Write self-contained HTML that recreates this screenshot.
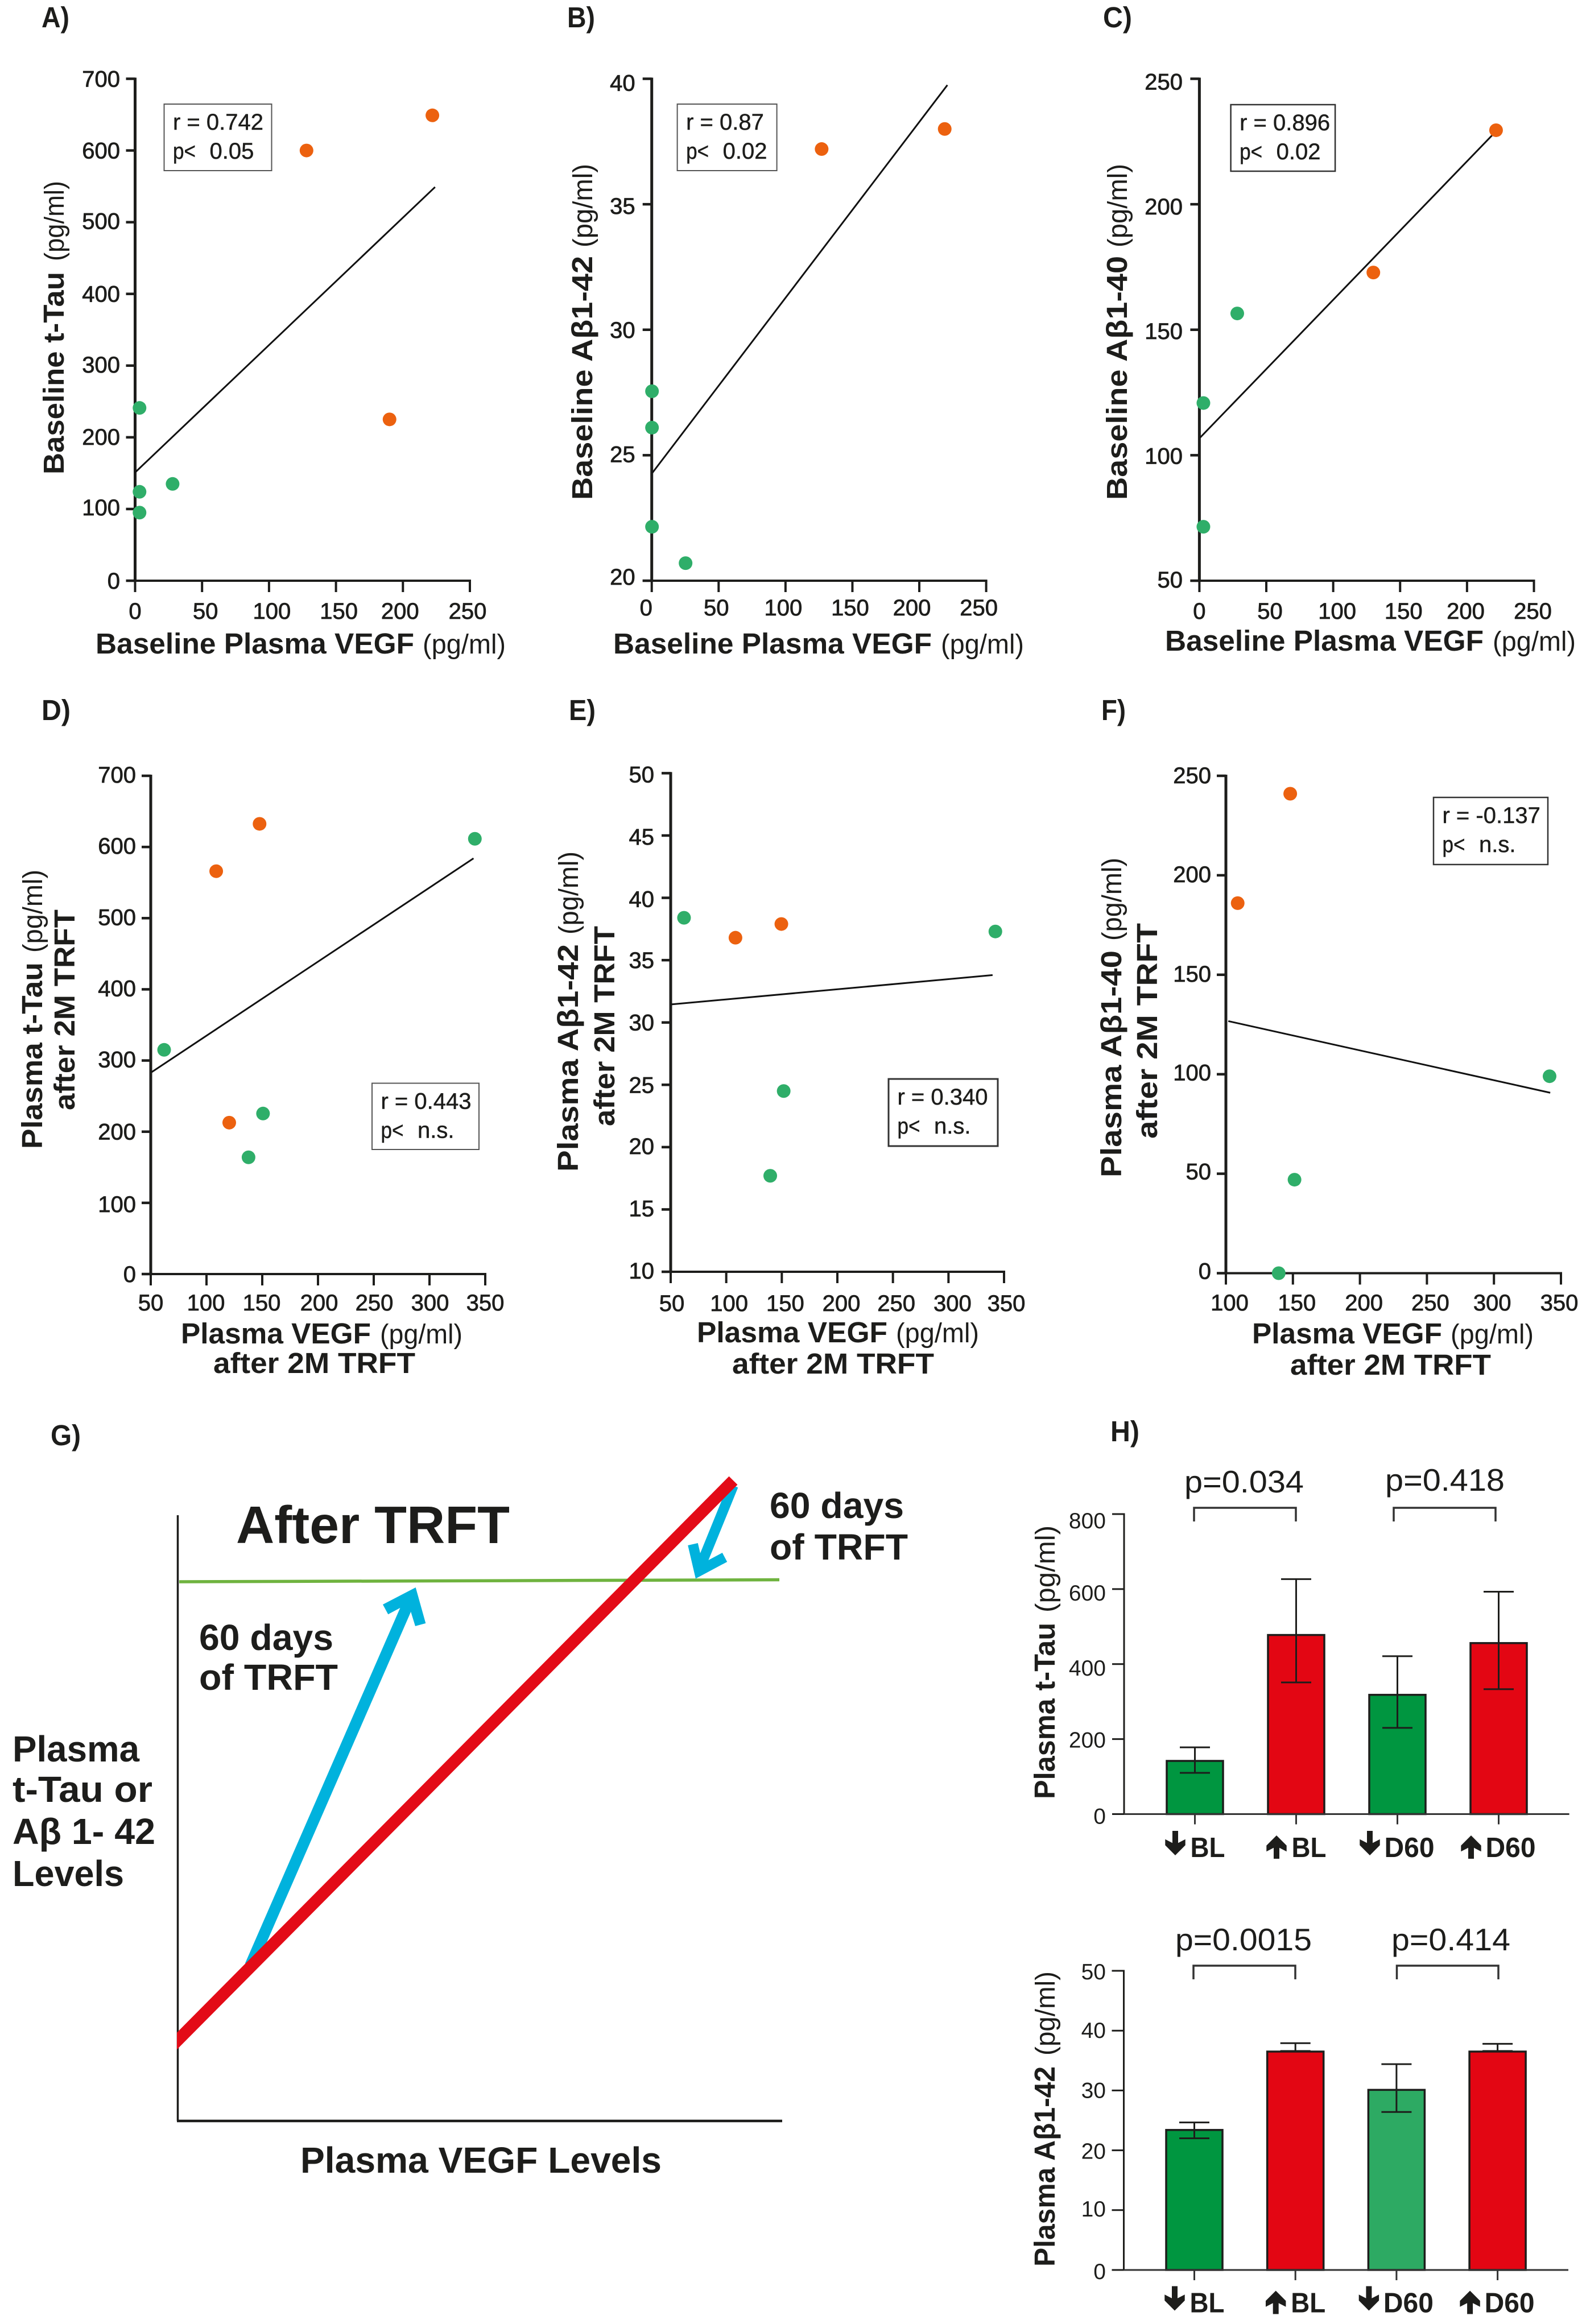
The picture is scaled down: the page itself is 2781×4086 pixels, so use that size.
<!DOCTYPE html>
<html lang="en">
<head>
<meta charset="utf-8">
<title>Plasma VEGF correlations and biomarker levels</title>
<style>
html,body{margin:0;padding:0;background:#fff;}
svg{display:block;}
text{font-family:"Liberation Sans",sans-serif;fill:#1d1d1b;}
.b{font-size:51px;font-weight:bold;}
.u{font-size:48px;}
.tick{font-size:40px;stroke:#1d1d1b;stroke-width:.8px;}
.box{font-size:40px;stroke:#1d1d1b;stroke-width:.5px;}
.letter{font-size:51px;font-weight:bold;}
.g{font-size:64px;font-weight:bold;}
.h{font-size:49px;font-weight:bold;}
.pv{font-size:55px;}
.tickh{font-size:39px;}
</style>
</head>
<body>
<svg id="fig" xmlns="http://www.w3.org/2000/svg" width="2781" height="4086" viewBox="0 0 2781 4086">
<defs>
<clipPath id="red-line-clip"><rect x="311" y="2500" width="1100" height="1300"/></clipPath>
</defs>
<rect width="2781" height="4086" fill="#fff"/>

<!-- panel letters -->
<text class="letter" x="73" y="48" textLength="49" lengthAdjust="spacingAndGlyphs">A)</text>
<text class="letter" x="997" y="48" textLength="49" lengthAdjust="spacingAndGlyphs">B)</text>
<text class="letter" x="1939" y="48" textLength="51" lengthAdjust="spacingAndGlyphs">C)</text>
<text class="letter" x="73" y="1266" textLength="51" lengthAdjust="spacingAndGlyphs">D)</text>
<text class="letter" x="1000" y="1266" textLength="47" lengthAdjust="spacingAndGlyphs">E)</text>
<text class="letter" x="1936" y="1266" textLength="43" lengthAdjust="spacingAndGlyphs">F)</text>
<text class="letter" x="89" y="2541" textLength="53" lengthAdjust="spacingAndGlyphs">G)</text>
<text class="letter" x="1952" y="2534" textLength="51" lengthAdjust="spacingAndGlyphs">H)</text>

<!-- x titles top row -->
<text class="b" x="168" y="1149" textLength="560" lengthAdjust="spacingAndGlyphs">Baseline Plasma VEGF</text>
<text class="u" x="743" y="1149" textLength="146" lengthAdjust="spacingAndGlyphs">(pg/ml)</text>
<text class="b" x="1078" y="1149" textLength="560" lengthAdjust="spacingAndGlyphs">Baseline Plasma VEGF</text>
<text class="u" x="1654" y="1149" textLength="146" lengthAdjust="spacingAndGlyphs">(pg/ml)</text>
<text class="b" x="2048" y="1144" textLength="560" lengthAdjust="spacingAndGlyphs">Baseline Plasma VEGF</text>
<text class="u" x="2624" y="1144" textLength="146" lengthAdjust="spacingAndGlyphs">(pg/ml)</text>

<!-- y titles top row -->
<text class="b" transform="translate(112,834) rotate(-90)" textLength="356" lengthAdjust="spacingAndGlyphs">Baseline t-Tau</text>
<text class="u" transform="translate(112,459) rotate(-90)" textLength="141" lengthAdjust="spacingAndGlyphs">(pg/ml)</text>
<text class="b" transform="translate(1041,879) rotate(-90)" textLength="429" lengthAdjust="spacingAndGlyphs">Baseline Aβ1-42</text>
<text class="u" transform="translate(1041,435) rotate(-90)" textLength="147" lengthAdjust="spacingAndGlyphs">(pg/ml)</text>
<text class="b" transform="translate(1981,879) rotate(-90)" textLength="429" lengthAdjust="spacingAndGlyphs">Baseline Aβ1-40</text>
<text class="u" transform="translate(1981,435) rotate(-90)" textLength="147" lengthAdjust="spacingAndGlyphs">(pg/ml)</text>

<!-- x titles middle row -->
<text class="b" x="318" y="2362" textLength="334" lengthAdjust="spacingAndGlyphs">Plasma VEGF</text>
<text class="u" x="668" y="2362" textLength="145" lengthAdjust="spacingAndGlyphs">(pg/ml)</text>
<text class="b" x="375" y="2414" textLength="355" lengthAdjust="spacingAndGlyphs">after 2M TRFT</text>
<text class="b" x="1225" y="2360" textLength="335" lengthAdjust="spacingAndGlyphs">Plasma VEGF</text>
<text class="u" x="1575" y="2360" textLength="146" lengthAdjust="spacingAndGlyphs">(pg/ml)</text>
<text class="b" x="1287" y="2415" textLength="355" lengthAdjust="spacingAndGlyphs">after 2M TRFT</text>
<text class="b" x="2201" y="2362" textLength="334" lengthAdjust="spacingAndGlyphs">Plasma VEGF</text>
<text class="u" x="2550" y="2362" textLength="146" lengthAdjust="spacingAndGlyphs">(pg/ml)</text>
<text class="b" x="2268" y="2417" textLength="353" lengthAdjust="spacingAndGlyphs">after 2M TRFT</text>

<!-- y titles middle row -->
<text class="b" transform="translate(74,2020) rotate(-90)" textLength="328" lengthAdjust="spacingAndGlyphs">Plasma t-Tau</text>
<text class="u" transform="translate(74,1675) rotate(-90)" textLength="146" lengthAdjust="spacingAndGlyphs">(pg/ml)</text>
<text class="b" transform="translate(131,1952) rotate(-90)" textLength="353" lengthAdjust="spacingAndGlyphs">after 2M TRFT</text>
<text class="b" transform="translate(1016,2060) rotate(-90)" textLength="400" lengthAdjust="spacingAndGlyphs">Plasma Aβ1-42</text>
<text class="u" transform="translate(1016,1643) rotate(-90)" textLength="146" lengthAdjust="spacingAndGlyphs">(pg/ml)</text>
<text class="b" transform="translate(1080,1980) rotate(-90)" textLength="352" lengthAdjust="spacingAndGlyphs">after 2M TRFT</text>
<text class="b" transform="translate(1971,2070) rotate(-90)" textLength="399" lengthAdjust="spacingAndGlyphs">Plasma Aβ1-40</text>
<text class="u" transform="translate(1971,1654) rotate(-90)" textLength="146" lengthAdjust="spacingAndGlyphs">(pg/ml)</text>
<text class="b" transform="translate(2034,2002) rotate(-90)" textLength="379" lengthAdjust="spacingAndGlyphs">after 2M TRFT</text>

<!-- stat boxes -->
<g transform="translate(288.5,183)">
<rect x="0" y="0" width="189" height="117" fill="#fff" stroke="#555" stroke-width="2"/>
<text class="box" x="15.5" y="45">r = 0.742</text>
<text class="box" x="15.5" y="96"><tspan textLength="40" lengthAdjust="spacingAndGlyphs">p&lt;</tspan><tspan x="80">0.05</tspan></text>
</g>
<g transform="translate(1190.6,183)">
<rect x="0" y="0" width="175" height="117" fill="#fff" stroke="#555" stroke-width="2"/>
<text class="box" x="15.5" y="45">r = 0.87</text>
<text class="box" x="15.5" y="96"><tspan textLength="40" lengthAdjust="spacingAndGlyphs">p&lt;</tspan><tspan x="80">0.02</tspan></text>
</g>
<g transform="translate(2163.6,184)">
<rect x="0" y="0" width="183.5" height="117" fill="#fff" stroke="#333" stroke-width="2.5"/>
<text class="box" x="15.5" y="45">r = 0.896</text>
<text class="box" x="15.5" y="96"><tspan textLength="40" lengthAdjust="spacingAndGlyphs">p&lt;</tspan><tspan x="80">0.02</tspan></text>
</g>
<g transform="translate(654,1904.5)">
<rect x="0" y="0" width="188" height="116.5" fill="#fff" stroke="#555" stroke-width="2"/>
<text class="box" x="15.5" y="45">r = 0.443</text>
<text class="box" x="15.5" y="96"><tspan textLength="40" lengthAdjust="spacingAndGlyphs">p&lt;</tspan><tspan x="80">n.s.</tspan></text>
</g>
<g transform="translate(1562,1897)">
<rect x="0" y="0" width="192" height="118" fill="#fff" stroke="#333" stroke-width="3"/>
<text class="box" x="15.5" y="45">r = 0.340</text>
<text class="box" x="15.5" y="96"><tspan textLength="40" lengthAdjust="spacingAndGlyphs">p&lt;</tspan><tspan x="80">n.s.</tspan></text>
</g>
<g transform="translate(2520,1402)">
<rect x="0" y="0" width="201" height="118" fill="#fff" stroke="#333" stroke-width="2.5"/>
<text class="box" x="15.5" y="45">r = -0.137</text>
<text class="box" x="15.5" y="96"><tspan textLength="40" lengthAdjust="spacingAndGlyphs">p&lt;</tspan><tspan x="80">n.s.</tspan></text>
</g>

<!-- panel G schematic -->
<g>
<line x1="312.5" y1="2664" x2="312.5" y2="3729" stroke="#1d1d1b" stroke-width="3.5"/>
<line x1="311" y1="3729" x2="1375" y2="3729" stroke="#1d1d1b" stroke-width="4.5"/>
<line x1="315" y1="2781" x2="1370" y2="2777.5" stroke="#6fb33f" stroke-width="5.5"/>
<line x1="440" y1="3456" x2="713" y2="2830" stroke="#00b2dd" stroke-width="20"/>
<polygon points="730.7,2791 748.3,2854 730,2859 722.3,2834 703.3,2827 682.3,2838.3 673,2821" fill="#00b2dd"/>
<line x1="1289" y1="2612" x2="1228" y2="2762" stroke="#00b2dd" stroke-width="18"/>
<polyline points="1218,2715 1229,2762 1274,2738" fill="none" stroke="#00b2dd" stroke-width="18"/>
<line x1="298" y1="3601.6" x2="1289" y2="2603" stroke="#e30b17" stroke-width="21" clip-path="url(#red-line-clip)"/>
<text font-size="93" font-weight="bold" x="415" y="2713" textLength="481" lengthAdjust="spacingAndGlyphs">After TRFT</text>
<text class="g" x="1353" y="2669" textLength="236" lengthAdjust="spacingAndGlyphs">60 days</text>
<text class="g" x="1353" y="2742" textLength="243" lengthAdjust="spacingAndGlyphs">of TRFT</text>
<text class="g" x="350" y="2901" textLength="236" lengthAdjust="spacingAndGlyphs">60 days</text>
<text class="g" x="350" y="2971" textLength="244" lengthAdjust="spacingAndGlyphs">of TRFT</text>
<text class="g" x="22" y="3097" textLength="223" lengthAdjust="spacingAndGlyphs">Plasma</text>
<text class="g" x="22" y="3168" textLength="246" lengthAdjust="spacingAndGlyphs">t-Tau or</text>
<text class="g" x="22" y="3242" textLength="251" lengthAdjust="spacingAndGlyphs">Aβ 1- 42</text>
<text class="g" x="22" y="3316" textLength="196" lengthAdjust="spacingAndGlyphs">Levels</text>
<text class="g" x="528" y="3820" textLength="635" lengthAdjust="spacingAndGlyphs">Plasma VEGF Levels</text>
</g>

<!-- panel H titles and p-values -->
<text class="b" transform="translate(1854,3163) rotate(-90)" textLength="310" lengthAdjust="spacingAndGlyphs">Plasma t-Tau</text>
<text class="u" transform="translate(1854,2835) rotate(-90)" textLength="153" lengthAdjust="spacingAndGlyphs">(pg/ml)</text>
<text class="b" transform="translate(1854,3985) rotate(-90)" textLength="352" lengthAdjust="spacingAndGlyphs">Plasma Aβ1-42</text>
<text class="u" transform="translate(1854,3614) rotate(-90)" textLength="148" lengthAdjust="spacingAndGlyphs">(pg/ml)</text>
<text class="pv" x="2082" y="2624" textLength="210" lengthAdjust="spacingAndGlyphs">p=0.034</text>
<text class="pv" x="2435" y="2621" textLength="210" lengthAdjust="spacingAndGlyphs">p=0.418</text>
<text class="pv" x="2066" y="3429" textLength="240" lengthAdjust="spacingAndGlyphs">p=0.0015</text>
<text class="pv" x="2446" y="3429" textLength="209" lengthAdjust="spacingAndGlyphs">p=0.414</text>
<polyline points="2099,2675 2099,2651 2278,2651 2278,2675" fill="none" stroke="#333" stroke-width="3.5"/>
<polyline points="2450,2675 2450,2651 2629,2651 2629,2675" fill="none" stroke="#333" stroke-width="3.5"/>
<polyline points="2098,3480 2098,3456 2277,3456 2277,3480" fill="none" stroke="#333" stroke-width="3.5"/>
<polyline points="2455.5,3480 2455.5,3456 2634,3456 2634,3480" fill="none" stroke="#333" stroke-width="3.5"/>
</svg>

<script>
// Panel A
const aGreenX = [3.3, 3.3, 3.3, 28];
const aGreenY = [241, 124, 95, 135];
const aOrangeX = [128, 222, 190];
const aOrangeY = [600, 649, 225];
const aTrendX = [0, 224];
const aTrendY = [151, 549];
const aXTicks = [0, 50, 100, 150, 200, 250];
const aYTicks = [0, 100, 200, 300, 400, 500, 600, 700];
// Panel B
const bGreenX = [0.2, 0.2, 0.2, 25.3];
const bGreenY = [27.55, 26.1, 22.15, 20.7];
const bOrangeX = [127, 219];
const bOrangeY = [37.2, 38.0];
const bTrendX = [0.5, 221];
const bTrendY = [24.3, 39.75];
const bXTicks = [0, 50, 100, 150, 200, 250];
const bYTicks = [20, 25, 30, 35, 40];
// Panel C
const cGreenX = [3, 3, 28.3];
const cGreenY = [71.5, 120.8, 156.5];
const cOrangeX = [130, 221.7];
const cOrangeY = [172.8, 229.5];
const cTrendX = [0.5, 219.7];
const cTrendY = [107, 228];
const cXTicks = [0, 50, 100, 150, 200, 250];
const cYTicks = [50, 100, 150, 200, 250];
// Panel D
const dGreenX = [62, 340.7, 150.7, 137.7];
const dGreenY = [315, 611.5, 225.5, 164];
const dOrangeX = [147.6, 108.7, 120.4];
const dOrangeY = [632.5, 566, 212.7];
const dTrendX = [50.6, 339.5];
const dTrendY = [283.5, 584];
const dXTicks = [50, 100, 150, 200, 250, 300, 350];
const dYTicks = [0, 100, 200, 300, 400, 500, 600, 700];
// Panel E
const eGreenX = [62, 342.2, 151.7, 139.6];
const eGreenY = [38.4, 37.3, 24.5, 17.7];
const eOrangeX = [108.3, 149.6];
const eOrangeY = [36.8, 37.9];
const eTrendX = [50.6, 339.7];
const eTrendY = [31.45, 33.8];
const eXTicks = [50, 100, 150, 200, 250, 300, 350];
const eYTicks = [10, 15, 20, 25, 30, 35, 40, 45, 50];
// Panel F
const fGreenX = [341.5, 151.2, 139.4];
const fGreenY = [99, 47, 0];
const fOrangeX = [148, 108.8];
const fOrangeY = [241, 186];
const fTrendX = [101.8, 342];
const fTrendY = [126.7, 90.7];
const fXTicks = [100, 150, 200, 250, 300, 350];
const fYTicks = [0, 50, 100, 150, 200, 250];
// Panel H bars
const barCategories = ['BL', 'BL', 'D60', 'D60'];
const barDirections = ['down', 'up', 'down', 'up'];
const tauMeans = [141.8, 477.6, 318, 456];
const tauErrHigh = [178, 626.5, 421, 593];
const tauErrLow = [110, 351, 230, 333];
const tauYTicks = [0, 200, 400, 600, 800];
const abetaMeans = [23.4, 36.5, 30.1, 36.5];
const abetaErrHigh = [24.65, 37.9, 34.4, 37.8];
const abetaErrLow = [22.0, 36.6, 26.4, 36.6];
const abetaYTicks = [0, 10, 20, 30, 40, 50];

const NS = 'http://www.w3.org/2000/svg';
const fig = document.getElementById('fig');
function make(tag, attrs, parent) {
  const el = document.createElementNS(NS, tag);
  for (const k in attrs) el.setAttribute(k, attrs[k]);
  parent.appendChild(el);
  return el;
}
function scale(dom, r0, r1) {
  return v => r0 + (v - dom[0]) / (dom[1] - dom[0]) * (r1 - r0);
}

function drawScatter(c) {
  const sx = scale(c.xDom, c.x0, c.x1);
  const sy = scale(c.yDom, c.y0, c.y1);
  const g = make('g', {}, fig);
  
  

  const yAxis = make('line', {x1: c.x0, x2: c.x0, y1: c.y1 - 2, y2: c.y0 + 2, stroke: '#1d1d1b', 'stroke-width': 5}, g);
  
  
  const xAxis = make('line', {x1: c.x0 - 16, x2: c.x1 + 2, y1: c.y0, y2: c.y0, stroke: '#1d1d1b', 'stroke-width': 4}, g);
  
  

  c.xTicks.forEach((v, i) => {
    const t = make('line', {x1: sx(v), x2: sx(v), y1: c.y0, y2: c.y0 + 20, stroke: '#1d1d1b', 'stroke-width': 4}, g);
    
    
    const l = make('text', {class: 'tick', x: sx(v) + c.xLabelDx[i], y: c.xLabelY, 'text-anchor': 'middle'}, g);
    
    
    l.textContent = v;
  });
  c.yTicks.forEach((v, i) => {
    const t = make('line', {x1: c.x0 - 16, x2: c.x0, y1: sy(v), y2: sy(v), stroke: '#1d1d1b', 'stroke-width': 4.5}, g);
    
    
    const l = make('text', {class: 'tick', x: c.yLabelX, y: sy(v) + 14 + c.yLabelDy[i], 'text-anchor': 'end'}, g);
    
    
    l.textContent = v;
  });

  const trend = make('line', {x1: sx(c.trendX[0]), y1: sy(c.trendY[0]), x2: sx(c.trendX[1]), y2: sy(c.trendY[1]), stroke: '#111', 'stroke-width': 3}, g);
  
  

  c.greenX.forEach((x, i) => {
    const d = make('ellipse', {cx: sx(x), cy: sy(c.greenY[i]), rx: 12, ry: 12, fill: '#2fae69'}, g);
    
    
  });
  c.orangeX.forEach((x, i) => {
    const d = make('ellipse', {cx: sx(x), cy: sy(c.orangeY[i]), rx: 12, ry: 12, fill: '#ec610f'}, g);
    
    
  });
}

drawScatter({id: 'a', x0: 237.5, x1: 826, y0: 1021, y1: 138.5, xDom: [0, 250], yDom: [0, 700], xTicks: aXTicks, yTicks: aYTicks, xLabelY: 1088, yLabelX: 211, xLabelDx: [0, 6, 5, 5, -5, -4], yLabelDy: [0, -3, -1, -2, 0, -2, 0, 0], greenX: aGreenX, greenY: aGreenY, orangeX: aOrangeX, orangeY: aOrangeY, trendX: aTrendX, trendY: aTrendY});
drawScatter({id: 'b', x0: 1145.7, x1: 1733.6, y0: 1021, y1: 138.5, xDom: [0, 250], yDom: [20, 40], xTicks: bXTicks, yTicks: bYTicks, xLabelY: 1082, yLabelX: 1116.6, xLabelDx: [-10, -4, -4, -4, -13, -13], yLabelDy: [-7, -2, 0, 3, 7], greenX: bGreenX, greenY: bGreenY, orangeX: bOrangeX, orangeY: bOrangeY, trendX: bTrendX, trendY: bTrendY});
drawScatter({id: 'c', x0: 2108.4, x1: 2696.5, y0: 1021, y1: 138.5, xDom: [0, 250], yDom: [50, 250], xTicks: cXTicks, yTicks: cYTicks, xLabelY: 1088, yLabelX: 2079, xLabelDx: [0, 6.5, 7, 6, -2.4, -2], yLabelDy: [-2, 1, 2, 4, 5], greenX: cGreenX, greenY: cGreenY, orangeX: cOrangeX, orangeY: cOrangeY, trendX: cTrendX, trendY: cTrendY});
drawScatter({id: 'd', x0: 265, x1: 853, y0: 2240, y1: 1364, xDom: [50, 350], yDom: [0, 700], xTicks: dXTicks, yTicks: dYTicks, xLabelY: 2304, yLabelX: 239, xLabelDx: [0, -1, -1, 2, 1, 1, 0], yLabelDy: [0, 2, 0, -2, -2, -2, -2, -2], greenX: dGreenX, greenY: dGreenY, orangeX: dOrangeX, orangeY: dOrangeY, trendX: dTrendX, trendY: dTrendY});
drawScatter({id: 'e', x0: 1179, x1: 1765, y0: 2236, y1: 1359.4, xDom: [50, 350], yDom: [10, 50], xTicks: eXTicks, yTicks: eYTicks, xLabelY: 2305, yLabelX: 1150, xLabelDx: [2, 5, 6, 7, 6, 7, 4], yLabelDy: [-2, -2, -2, 0, 0, 0, 2, 2, 2], greenX: eGreenX, greenY: eGreenY, orangeX: eOrangeX, orangeY: eOrangeY, trendX: eTrendX, trendY: eTrendY});
drawScatter({id: 'f', x0: 2155, x1: 2744, y0: 2238.5, y1: 1364, xDom: [100, 350], yDom: [0, 250], xTicks: fXTicks, yTicks: fYTicks, xLabelY: 2304, yLabelX: 2129, xLabelDx: [6.5, 7, 7, 6, -3, -3], yLabelDy: [-4, -4, -3, -2, -2, -1], greenX: fGreenX, greenY: fGreenY, orangeX: fOrangeX, orangeY: fOrangeY, trendX: fTrendX, trendY: fTrendY});

function drawBars(c) {
  const sy = scale(c.yDom, c.y0, c.y1);
  const cx = i => c.firstCenter + i * c.step;
  const g = make('g', {}, fig);
  
  

  c.means.forEach((v, i) => {
    const r = make('rect', {x: cx(i) - 49.5, y: sy(v), width: 99, height: c.y0 - sy(v), fill: c.colors[i], stroke: '#1d1d1b', 'stroke-width': 3.5}, g);
    
    
    const stem = make('line', {x1: cx(i), x2: cx(i), y1: sy(c.errHigh[i]), y2: sy(c.errLow[i]), stroke: '#1d1d1b', 'stroke-width': 3}, g);
    
    
    [c.errHigh[i], c.errLow[i]].forEach(e => {
      const cap = make('line', {x1: cx(i) - 26.5, x2: cx(i) + 26.5, y1: sy(e), y2: sy(e), stroke: '#1d1d1b', 'stroke-width': 3}, g);
      
      
    });
    const t = make('line', {x1: cx(i), x2: cx(i), y1: c.y0, y2: c.y0 + 18, stroke: '#333', 'stroke-width': 3}, g);
    
    

    const isBL = barCategories[i] === 'BL';
    const tx = cx(i) + (isBL ? -8 : -23);
    const l = make('text', {class: 'h', x: tx, y: c.labelY, textLength: isBL ? 61 : 88, lengthAdjust: 'spacingAndGlyphs'}, g);
    
    
    l.textContent = barCategories[i];

    const ax = cx(i) + (isBL ? -34.5 : -48.5);
    const down = barDirections[i] === 'down';
    const tip = down ? c.labelY - 3 : c.labelY - 38;
    const dir = down ? -1 : 1;
    const tail = down ? c.labelY - 46 : c.labelY + 3;
    const shaft = make('line', {x1: ax, x2: ax, y1: tail, y2: tip + dir * 15, stroke: '#1d1d1b', 'stroke-width': 10}, g);
    
    
    const head = [[-17.7, 28.3], [-5, 21.7], [5, 21.7], [17.7, 28.3], [17.7, 17.7], [0, 0], [-17.7, 17.7]]
      .map(p => (ax + p[0]) + ',' + (tip + dir * p[1])).join(' ');
    const arrow = make('polygon', {points: head, fill: '#1d1d1b'}, g);
    
    
  });

  const yAxis = make('line', {x1: c.axisX, x2: c.axisX, y1: c.y1 - 1.5, y2: c.y0, stroke: '#1d1d1b', 'stroke-width': 3}, g);
  
  
  const xAxis = make('line', {x1: c.axisX - 21, x2: c.xEnd, y1: c.y0, y2: c.y0, stroke: '#333', 'stroke-width': 3}, g);
  
  

  c.yTicks.forEach((v, i) => {
    const t = make('line', {x1: c.axisX - 21, x2: c.axisX, y1: sy(v), y2: sy(v), stroke: '#1d1d1b', 'stroke-width': 3}, g);
    
    
    const l = make('text', {class: 'tickh', x: 1944, y: sy(v) + c.labelDrop[i], 'text-anchor': 'end'}, g);
    
    
    l.textContent = v;
  });
}

drawBars({id: 'tau', y0: 3189.5, y1: 2662, yDom: [0, 800], axisX: 1976, xEnd: 2758.6, firstCenter: 2100.5, step: 178, means: tauMeans, errHigh: tauErrHigh, errLow: tauErrLow, yTicks: tauYTicks, colors: ['#009640', '#e30613', '#009640', '#e30613'], labelY: 3265, labelDrop: [17, 15, 20, 20, 25]});
drawBars({id: 'abeta', y0: 3991, y1: 3465, yDom: [0, 50], axisX: 1975.5, xEnd: 2757, firstCenter: 2099.5, step: 177.7, means: abetaMeans, errHigh: abetaErrHigh, errLow: abetaErrLow, yTicks: abetaYTicks, colors: ['#009640', '#e30613', '#2daa63', '#e30613'], labelY: 4065.5, labelDrop: [16, 11, 15, 13, 13, 15]});
</script>
</body>
</html>
